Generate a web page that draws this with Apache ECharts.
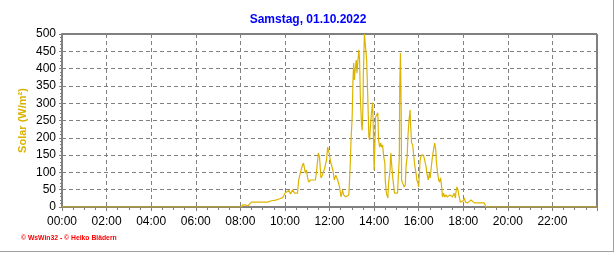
<!DOCTYPE html>
<html><head><meta charset="utf-8">
<script src="https://cdn.jsdelivr.net/npm/echarts@6/dist/echarts.min.js"></script>
<style>html,body{margin:0;padding:0;background:#fff;}#c{width:616px;height:253px;}</style>
</head><body><div id="c"></div>
<script>
const title = "Samstag, 01.10.2022";
const yName = "Solar (W/m²)";
const footer = "© WsWin32 - © Heiko Blädern";
const xTickLabels = ["00:00","02:00","04:00","06:00","08:00","10:00","12:00","14:00","16:00","18:00","20:00","22:00"];
const times = ["00:00","08:04","08:06","08:14","08:20","08:25","08:30","09:13","09:24","09:35","09:46","09:54",
"10:00","10:04","10:10","10:15","10:21","10:26","10:34","10:37","10:42","10:47","10:50","10:55","10:58",
"11:01","11:04","11:09","11:22","11:25","11:30","11:33","11:37","11:41","11:47","11:52","11:55","11:59",
"12:03","12:07","12:09","12:13","12:17","12:22","12:27","12:31","12:35","12:38","12:43","12:48","12:52","12:54","12:56","12:58",
"13:01","13:03","13:05","13:07","13:09","13:12","13:14","13:16","13:19","13:21","13:23","13:26","13:28","13:30","13:31","13:34","13:37","13:40","13:43","13:46","13:48","13:50","13:53","13:56","13:58",
"14:00","14:02","14:04","14:07","14:10","14:12","14:15","14:18","14:20","14:23","14:26","14:29","14:30","14:33","14:37","14:39","14:43","14:45","14:47","14:50","14:53","14:55","14:59",
"15:03","15:05","15:08","15:09","15:11","15:13","15:14","15:17","15:21","15:24","15:26","15:29","15:31","15:34","15:37","15:38","15:41","15:44","15:47","15:50","15:53","15:55","15:58",
"16:00","16:02","16:04","16:07","16:11","16:13","16:16","16:20","16:22","16:26","16:29","16:31","16:34","16:37","16:40","16:43","16:46","16:48","16:51","16:54","16:56","16:59",
"17:02","17:04","17:07","17:10","17:14","17:17","17:21","17:24","17:28","17:31","17:35","17:39","17:40","17:43","17:46","17:48","17:52","17:55",
"18:00","18:03","18:06","18:12","18:16","18:21","18:25","18:30","18:38","18:48","18:52","18:56","18:59","19:01","24:00"];
const solar = [0,0,6,6,3,6,14,14,18,20,24,27,
40,35,48,38,50,40,40,78,101,120,127,98,107,
85,72,78,78,101,156,145,84,92,112,136,173,156,
130,130,107,78,92,78,58,29,49,35,29,26,35,78,127,194,
260,358,416,367,396,425,387,416,454,425,318,243,222,289,376,500,500,425,318,202,194,231,272,301,222,
107,173,260,266,272,194,173,185,173,179,145,127,78,40,26,69,107,156,127,87,58,40,43,
40,43,145,347,445,272,78,69,58,64,116,145,202,251,280,243,185,179,145,116,98,78,69,
58,98,136,150,145,150,136,116,98,78,98,84,116,145,165,185,165,127,98,78,72,84,
58,29,40,29,35,29,26,35,40,29,40,26,40,58,49,35,14,12,
18,26,14,12,14,20,17,12,12,12,9,12,6,0,0];

function toHours(t){const p=t.split(":");return (+p[0])+(+p[1])/60;}
const data = times.map((t,i)=>[toHours(t), solar[i]]);

const chart = echarts.init(document.getElementById('c'), null, {renderer:'canvas'});
const font = "'Liberation Sans', Arial, sans-serif";
chart.setOption({
  animation:false,
  backgroundColor:'#ffffff',
  title:{text:title,left:'center',top:9,textStyle:{color:'#0000ff',fontSize:12,fontWeight:'bold',fontFamily:font}},
  grid:{left:62,right:19,top:34,bottom:46,show:true,borderColor:'#000',borderWidth:1},
  xAxis:{type:'value',min:0,max:24,interval:2,
    axisLine:{show:true,onZero:false,lineStyle:{color:'#808080',width:2}},
    axisTick:{show:true,length:4,lineStyle:{color:'#808080'}},
    minorTick:{show:true,splitNumber:4,length:3,lineStyle:{color:'#808080'}},
    splitLine:{show:true,lineStyle:{color:'#808080',type:[4,3],width:1}},
    axisLabel:{color:'#000',fontSize:12,fontFamily:font,margin:9,
      formatter:(v)=>{const i=Math.round(v/2);return (v<24 && Math.abs(v-i*2)<1e-6)?xTickLabels[i]:'';}}
  },
  yAxis:{type:'value',min:0,max:500,interval:50,
    name:yName,nameLocation:'middle',nameGap:34,nameRotate:90,nameMoveOverlap:false,
    nameTextStyle:{color:'#d9b300',fontSize:11,fontWeight:'bold',fontFamily:font},
    axisLine:{show:true,lineStyle:{color:'#808080',width:2}},
    axisTick:{show:true,length:3,lineStyle:{color:'#808080'}},
    minorTick:{show:true,splitNumber:5,length:2,lineStyle:{color:'#808080'}},
    splitLine:{show:true,lineStyle:{color:'#808080',type:[4,3],width:1}},
    axisLabel:{color:'#000',fontSize:12,fontFamily:font,margin:6}
  },
  series:[{type:'line',data:data,symbol:'none',smooth:false,
    lineStyle:{color:'#dcb400',width:1.2},clip:true}],
  graphic:[
    {type:'text',left:21,top:235,style:{text:footer,fill:'#ff0000',font:"bold 6.8px 'Liberation Sans', Arial, sans-serif"}},
    {type:'line',shape:{x1:613.5,y1:0,x2:613.5,y2:251.5},style:{stroke:'#a0a0a0',lineWidth:1}},
    {type:'line',shape:{x1:0,y1:251.5,x2:614,y2:251.5},style:{stroke:'#a0a0a0',lineWidth:1}}
  ]
});
</script></body></html>
